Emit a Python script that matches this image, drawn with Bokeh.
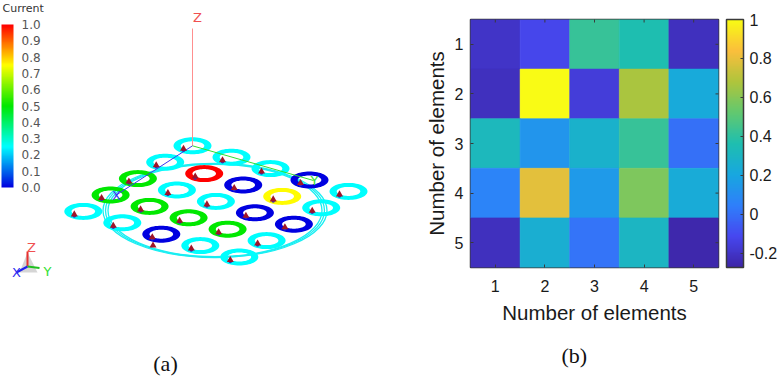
import numpy as np
from bokeh.core.properties import value
from bokeh.embed import file_html
from bokeh.layouts import row
from bokeh.models import (ColorBar, ColumnDataSource, FixedTicker, Label,
                          LinearColorMapper, Range1d, Title)
from bokeh.plotting import figure
from bokeh.resources import INLINE

# Panel (b): heat map values, rows 1..5 top to bottom, columns 1..5
heat_ticks = [1, 2, 3, 4, 5]
heat_values = [
    [-0.20, -0.12, 0.42, 0.36, -0.22],
    [-0.22, 1.00, -0.16, 0.67, 0.22],
    [0.32, 0.13, 0.27, 0.42, 0.00],
    [0.06, 0.79, 0.15, 0.58, 0.23],
    [-0.22, 0.25, 0.01, 0.30, -0.26],
]
heat_label = "Number of elements"
heat_bar_ticks = [-0.2, 0, 0.2, 0.4, 0.6, 0.8, 1]

# Panel (a): current on each element of the 5 x 5 array
ring_currents = [
    [0.25, 0.25, 0.25, 0.00, 0.25],
    [0.25, 1.00, 0.00, 0.75, 0.25],
    [0.50, 0.25, 0.25, 0.00, 0.00],
    [0.50, 0.50, 0.50, 0.50, 0.25],
    [0.25, 0.25, 0.00, 0.25, 0.25],
]
current_ticks = [0.0, 0.1, 0.2, 0.3, 0.4, 0.5, 0.6, 0.7, 0.8, 0.9, 1.0]

GREY = "#3a3a3a"
SANS = "Liberation Sans"
SERIF = "Liberation Serif"


def ramp(stops, n=256):
    pos = np.linspace(0, 1, len(stops))
    rgb = np.array([[int(s[i:i + 2], 16) for i in (1, 3, 5)] for s in stops], float)
    t = np.linspace(0, 1, n)
    chan = [np.interp(t, pos, rgb[:, k]) for k in range(3)]
    return ["#%02x%02x%02x" % (int(r), int(g), int(b)) for r, g, b in zip(*chan)]


JET = ramp(["#0000e0", "#00ffff", "#00e800", "#ffff00", "#ff0000"])
PARULA = ramp(["#3e26a8", "#4748f0", "#2f80fb", "#18a8e0", "#1fbfb0",
               "#62c970", "#b0c53c", "#fbbf3c", "#f9fb15"])

# ---------------- left panel: pixel-like model space of the 3-D view
LEFT_W, H = 400, 381
left = figure(width=LEFT_W, height=H, x_range=Range1d(0, LEFT_W), y_range=Range1d(H, 0),
              output_backend="svg", toolbar_location=None, min_border=0,
              outline_line_color=None, frame_align=False)
left.axis.visible = False
left.grid.visible = False

ORIGIN = np.array([192.0, 145.3])
STEP_I = np.array([-27.3, 16.4])
STEP_J = np.array([39.0, 11.4])

# large feed circle
for k, (a, b) in enumerate([(112, 47), (109.5, 46.6), (107, 46.2)]):
    left.ellipse(x=[214.5], y=[210], width=[2 * a], height=[2 * b],
                 fill_color=None, line_color="#19eef2", line_width=1.3)

mapper = LinearColorMapper(palette=JET, low=0, high=1)
cur = np.array(ring_currents)
ii, jj = np.meshgrid(np.arange(5), np.arange(5), indexing="ij")
centres = ORIGIN + ii.ravel()[:, None] * STEP_I + jj.ravel()[:, None] * STEP_J
th = np.linspace(0, 2 * np.pi, 61)
xs, ys = [], []
for cx, cy in centres:
    xs.append([[list(cx + 19 * np.cos(th)), list(cx + 11.8 * np.cos(th))]])
    ys.append([[list(cy + 8.5 * np.sin(th)), list(cy + 4.5 * np.sin(th))]])
left.multi_polygons(xs="xs", ys="ys", line_color=None,
                    fill_color={"field": "c", "transform": mapper},
                    source=ColumnDataSource(dict(xs=xs, ys=ys, c=cur.ravel())))

# axes of the 3-D view
O = ORIGIN
left.segment(x0=[O[0]], y0=[O[1]], x1=[O[0]], y1=[28], line_color="#ff8f8f", line_width=1)
left.segment(x0=[O[0]], y0=[O[1]], x1=[115], y1=[195], line_color="#3a3af0", line_width=1)
left.segment(x0=[O[0]], y0=[O[1]], x1=[313], y1=[180], line_color="#30e030", line_width=1)
axis_font = value("DejaVu Sans")
for tx, ty, tt, tc in [(197, 17, "Z", "#f05050"), (116, 195, "X", "#3a3af0"), (314, 180, "Y", "#30e030")]:
    left.text(x=[tx], y=[ty], text=[tt], text_color=tc, text_font=axis_font,
              text_font_size="13px", text_align="center", text_baseline="middle")

# feed markers
fx = centres[:, 0] - 9
fy = centres[:, 1] + 3
left.scatter(x=fx, y=fy + 1.5, size=3.5, color="#3030c0", line_color=None)
left.scatter(x=fx, y=fy, size=7, color="#a01428", line_color=None, marker="triangle")
left.scatter(x=[152.5], y=[245], size=7, color="#a01428", line_color=None, marker="triangle")

# orientation triad
left.patch(x=[27, 19, 37], y=[252, 272, 272], color="#888888", alpha=0.35, line_color=None)
left.segment(x0=[27], y0=[266], x1=[27], y1=[251], line_color="#e83030", line_width=2)
left.segment(x0=[27], y0=[266], x1=[16], y1=[272], line_color="#2020f0", line_width=2)
left.segment(x0=[27], y0=[266], x1=[39], y1=[267.5], line_color="#20c020", line_width=2)
for tx, ty, tt, tc in [(31, 247, "Z", "#f05050"), (16, 272, "X", "#3030f0"), (47, 271, "Y", "#30e030")]:
    left.text(x=[tx], y=[ty], text=[tt], text_color=tc, text_font=axis_font,
              text_font_size="13px", text_align="center", text_baseline="middle")

# current legend
bar = ColorBar(color_mapper=mapper, location=(1, H - 187), width=12, height=163,
               ticker=FixedTicker(ticks=current_ticks), major_tick_line_color=None,
               bar_line_color=None, padding=0, margin=0, label_standoff=8,
               major_label_text_font="DejaVu Sans", major_label_text_font_size="12px",
               major_label_text_color="#555555", background_fill_color=None,
               border_line_color=None, minor_tick_line_color=None,
               major_label_overrides={t: "%.1f" % t for t in current_ticks})
left.add_layout(bar, "center")
left.add_layout(Label(x=2, y=H - 14, x_units="screen", y_units="screen", text="Current",
                      text_font="DejaVu Sans", text_font_size="11px", text_color="#333333"))
left.add_layout(Label(x=165, y=H - 375, x_units="screen", y_units="screen", text="(a)",
                      text_font=SERIF, text_font_size="22px", text_color="#111111",
                      text_align="center"))

# ---------------- right panel: heat map
RIGHT_W = 777 - LEFT_W
FRAME_L = 70
heat_mapper = LinearColorMapper(palette=PARULA, low=-0.274, high=1.0)
right = figure(width=RIGHT_W, height=H, x_range=Range1d(0.5, 5.5), y_range=Range1d(5.5, 0.5),
               output_backend="svg", toolbar_location=None, frame_align=False,
               min_border_left=FRAME_L, min_border_right=59, min_border_top=19, min_border_bottom=114,
               outline_line_color=GREY, outline_line_width=1.5)
right.grid.visible = False
hv = np.array(heat_values)
gx, gy = np.meshgrid(heat_ticks, heat_ticks)
right.rect(x="x", y="y", width=1, height=1, line_width=0.6,
           line_color={"field": "v", "transform": heat_mapper},
           fill_color={"field": "v", "transform": heat_mapper},
           source=ColumnDataSource(dict(x=gx.ravel(), y=gy.ravel(), v=hv.ravel())))

for ax in (right.xaxis[0], right.yaxis[0]):
    ax.ticker = FixedTicker(ticks=heat_ticks)
    ax.major_tick_in = 3
    ax.major_tick_out = 0
    ax.minor_tick_line_color = None
    ax.axis_line_color = None
    ax.major_tick_line_color = GREY
    ax.major_label_text_font = SANS
    ax.major_label_text_font_size = "16px"
    ax.major_label_text_color = "#1a1a1a"
    ax.axis_label = heat_label
    ax.axis_label_text_font = SANS
    ax.axis_label_text_font_style = "normal"
    ax.axis_label_text_font_size = "20.5px"
    ax.axis_label_text_color = "#1a1a1a"
right.xaxis[0].major_label_standoff = 12
right.xaxis[0].axis_label_standoff = 6
right.yaxis[0].major_label_standoff = 7
right.yaxis[0].axis_label_standoff = 4
right.yaxis[0].major_label_orientation = "horizontal"

# inward ticks on the top and right edges
n = len(heat_ticks)
right.scatter(x=heat_ticks, y=[0.5] * n, marker="dash", size=6, angle=np.pi / 2,
              line_color=GREY, line_width=1)
right.scatter(x=[5.5] * n, y=heat_ticks, marker="dash", size=6, line_color=GREY, line_width=1)

heat_bar = ColorBar(color_mapper=heat_mapper, ticker=FixedTicker(ticks=heat_bar_ticks),
                    location=(256, 0), height=248, width=17, padding=0, margin=0, label_standoff=6,
                    major_tick_in=3, major_tick_out=0, major_tick_line_color=GREY,
                    minor_tick_line_color=None, bar_line_color=GREY, bar_line_width=1.5,
                    major_label_text_font=SANS, major_label_text_font_size="16px",
                    major_label_text_color="#1a1a1a", border_line_color=None,
                    background_fill_color=None,
                    major_label_overrides={1: "1", 0: "0", -0.2: "-0.2"})
right.add_layout(heat_bar, "center")
right.add_layout(Title(text="(b)", text_font=SERIF, text_font_size="22px", text_color="#111111",
                       text_font_style="normal", align="left", offset=91, standoff=28), "below")

page = row(left, right)
open("out.html", "w").write(file_html(page, INLINE))
